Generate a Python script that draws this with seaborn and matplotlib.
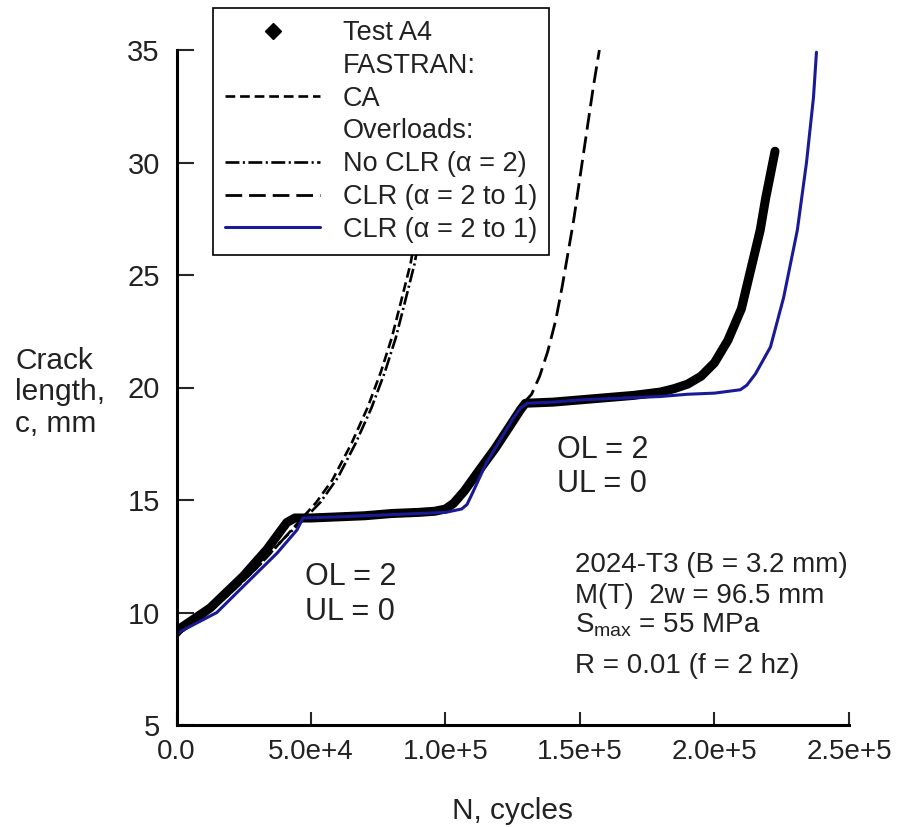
import matplotlib
matplotlib.use("Agg")
import matplotlib.pyplot as plt
from matplotlib.lines import Line2D
import seaborn as sns
import pandas as pd

# ---------------- data ----------------
test_n = [0, 1400, 12500, 24700, 33600, 41000, 44000, 50000, 60000, 70000, 80000, 90000, 96000,
          100000, 103000, 107000, 113000, 118500, 124000, 127800, 129700,
          140000, 150000, 160000, 170000, 180000, 185000, 190000, 195000, 200000,
          205000, 210000, 214000, 217000, 219000, 221000, 222500]
test_c = [9.1, 9.3, 10.2, 11.6, 12.8, 14.0, 14.2, 14.2, 14.25, 14.3, 14.4, 14.45, 14.5,
          14.6, 14.85, 15.4, 16.4, 17.3, 18.3, 19.0, 19.3,
          19.35, 19.45, 19.55, 19.65, 19.8, 19.95, 20.15, 20.5, 21.1,
          22.1, 23.5, 25.5, 27.0, 28.4, 29.6, 30.5]

ca_n = [0, 10000, 20000, 30000, 40000, 46000, 52000, 58000, 65000, 71000, 76000, 80000,
        83000, 87000, 90000, 93000, 96000]
ca_c = [9.0, 9.8, 10.85, 12.0, 13.3, 14.1, 14.9, 15.9, 17.5, 19.1, 20.7, 22.2,
        23.6, 25.5, 27.5, 30.0, 33.5]

noclr_n = [0, 10000, 20000, 30000, 40000, 47000, 53500, 60000, 66500, 72500, 77500, 81500,
           84500, 88500, 91500, 94500, 97000]
noclr_c = [9.0, 9.8, 10.85, 12.0, 13.3, 14.1, 14.9, 16.0, 17.5, 19.1, 20.7, 22.2,
           23.6, 25.5, 27.5, 30.0, 33.5]

clr_n = [129000, 132000, 135000, 138000, 141000, 143400, 147600, 151300, 155000, 157200]
clr_c = [19.3, 19.7, 20.5, 21.6, 23.0, 24.5, 27.4, 30.4, 33.4, 35.0]

blue_n = [0, 1400, 15000, 26000, 37400, 44800, 47000, 60000, 80000, 100000, 106000,
          108000, 110000, 115000, 120000, 125000, 128000, 130500,
          140000, 150000, 160000, 170000, 180000, 190000, 200000, 209600, 212000,
          215200, 218000, 220800, 225700, 230800, 234200, 236800, 237900]
blue_c = [9.0, 9.15, 10.0, 11.3, 12.64, 13.67, 14.2, 14.25, 14.35, 14.45, 14.6,
          14.8, 15.3, 16.6, 17.6, 18.6, 19.1, 19.3,
          19.35, 19.45, 19.5, 19.55, 19.6, 19.7, 19.75, 19.9, 20.1,
          20.6, 21.2, 21.8, 24.0, 27.0, 30.0, 32.9, 34.9]

x_ticks = [0, 50000, 100000, 150000, 200000, 250000]
x_tick_labels = ["0.0", "5.0e+4", "1.0e+5", "1.5e+5", "2.0e+5", "2.5e+5"]
y_ticks = [5, 10, 15, 20, 25, 30, 35]

legend_labels = ["Test A4", "FASTRAN:", "CA", "Overloads:",
                 "No CLR (\u03b1 = 2)", "CLR (\u03b1 = 2 to 1)", "CLR (\u03b1 = 2 to 1)"]

# ---------------- style ----------------
sns.set_style("white")
plt.rcParams["font.family"] = ["Liberation Sans", "DejaVu Sans"]
plt.rcParams["mathtext.fontset"] = "custom"
plt.rcParams["mathtext.rm"] = "Liberation Sans"
plt.rcParams["mathtext.it"] = "Liberation Sans"
plt.rcParams["lines.scale_dashes"] = False
TXT = "#222222"
BLUE = "#1a1a96"

fig = plt.figure(figsize=(9.01, 8.27), dpi=100)
ax = fig.add_axes([176.5 / 901, 1 - 725 / 827, 672.5 / 901, 675 / 827])

def df(n, c):
    return pd.DataFrame({"N": n, "c": c})

sns.lineplot(data=df(ca_n, ca_c), x="N", y="c", ax=ax, color="black", lw=1.9,
             linestyle=(0, (7, 3.5)), sort=False, estimator=None)
sns.lineplot(data=df(noclr_n, noclr_c), x="N", y="c", ax=ax, color="black", lw=1.9,
             linestyle=(0, (10, 2.5, 1.5, 2.5)), sort=False, estimator=None)
sns.lineplot(data=df(clr_n, clr_c), x="N", y="c", ax=ax, color="black", lw=2.0,
             linestyle=(0, (12, 5)), sort=False, estimator=None)
sns.lineplot(data=df(test_n, test_c), x="N", y="c", ax=ax, color="black", lw=6.5,
             sort=False, estimator=None, solid_capstyle="round", solid_joinstyle="round")
sns.lineplot(data=df(blue_n, blue_c), x="N", y="c", ax=ax, color=BLUE, lw=2.2,
             sort=False, estimator=None)

ax.set_xlim(0, 250000)
ax.set_ylim(5, 35)
ax.set_xticks(x_ticks)
ax.set_xticklabels(x_tick_labels)
ax.set_yticks(y_ticks)
ax.tick_params(axis="y", direction="in", length=12, width=1.5, pad=12,
               labelsize=21, labelcolor=TXT, left=True)
ax.tick_params(axis="x", direction="in", length=9.5, width=1.5, pad=10,
               labelsize=20, labelcolor=TXT, bottom=True)
for s in ["top", "right"]:
    ax.spines[s].set_visible(False)
for s in ["left", "bottom"]:
    ax.spines[s].set_linewidth(2.2)
    ax.spines[s].set_color("black")

ax.set_xlabel("N, cycles", fontsize=21.5, color=TXT, labelpad=23)
ax.set_ylabel("Crack\nlength,\nc, mm", fontsize=21.5, color=TXT, rotation=0,
              ha="left", va="center", multialignment="left", linespacing=1.15)
ax.yaxis.set_label_coords(-0.240, 0.493)

# annotations
ax.text(47800, 11.22, "OL = 2", fontsize=22, color=TXT, va="baseline")
ax.text(47800, 9.67, "UL = 0", fontsize=22, color=TXT, va="baseline")
ax.text(141500, 16.87, "OL = 2", fontsize=22, color=TXT, va="baseline")
ax.text(141500, 15.36, "UL = 0", fontsize=22, color=TXT, va="baseline")
ax.text(148300, 11.8, "2024-T3 (B = 3.2 mm)", fontsize=20, color=TXT, va="baseline")
ax.text(148300, 10.42, "M(T)  2w = 96.5 mm", fontsize=20, color=TXT, va="baseline")
ax.text(148300, 9.09, r"S$_{\mathrm{max}}$ = 55 MPa", fontsize=20, color=TXT, va="baseline")
ax.text(148300, 7.31, "R = 0.01 (f = 2 hz)", fontsize=20, color=TXT, va="baseline")

# legend
handles = [
    Line2D([], [], color="black", marker="D", markersize=8, linestyle="none"),
    Line2D([], [], linestyle="none"),
    Line2D([], [], color="black", lw=1.9, linestyle=(0, (7, 3.5))),
    Line2D([], [], linestyle="none"),
    Line2D([], [], color="black", lw=1.9, linestyle=(0, (10, 2.5, 1.5, 2.5))),
    Line2D([], [], color="black", lw=2.0, linestyle=(0, (12, 5))),
    Line2D([], [], color=BLUE, lw=2.2),
]
leg = ax.legend(handles, legend_labels, loc="upper left",
                bbox_to_anchor=(213 / 901, 1 - 8 / 827), bbox_transform=fig.transFigure,
                borderaxespad=0, frameon=True, fancybox=False, framealpha=1,
                edgecolor="black", fontsize=19.5, handlelength=3.5, handletextpad=0.85,
                labelspacing=0.25, borderpad=0.45)
leg.get_frame().set_linewidth(1.2)
for t in leg.get_texts():
    t.set_color(TXT)
leg.set_zorder(10)

fig.savefig("out.png", dpi=100)
